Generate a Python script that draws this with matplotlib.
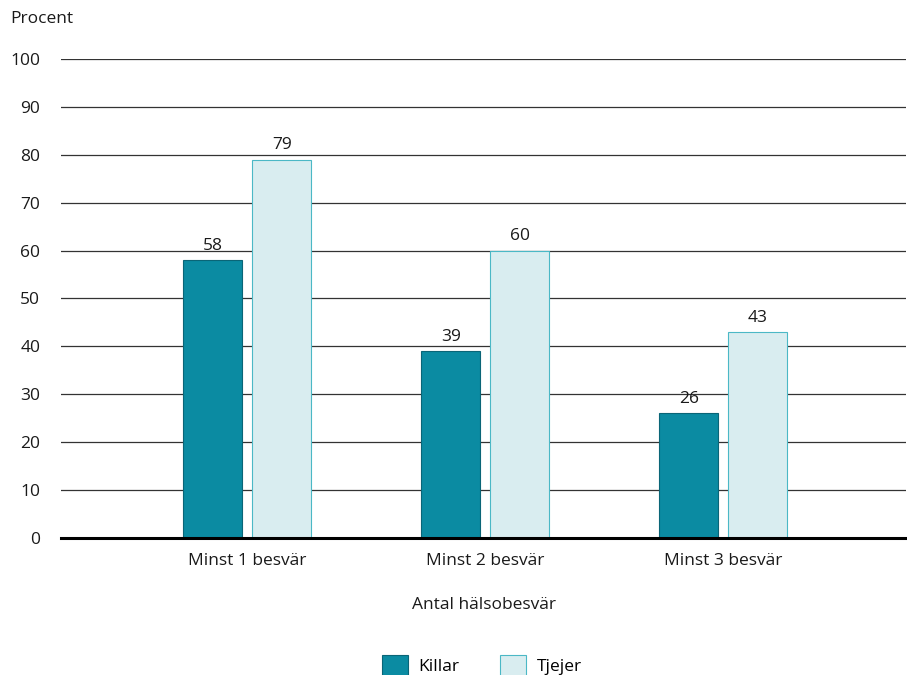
import matplotlib.pyplot as plt
import numpy as np

plt.rcParams["font.family"] = ["Open Sans", "DejaVu Sans"]

categories = ["Minst 1 besvär", "Minst 2 besvär", "Minst 3 besvär"]
killar = [58, 39, 26]
tjejer = [79, 60, 43]
yticks = [0, 10, 20, 30, 40, 50, 60, 70, 80, 90, 100]

fs = 12.5
fig = plt.figure(figsize=(9.07, 6.75), dpi=100)
ax = fig.add_axes([0.0673, 0.203, 0.932, 0.7096])

x = np.arange(len(categories))
w = 0.248
off = 0.145

b1 = ax.bar(x - off, killar, w, color="#0b8ba2", edgecolor="#0a6577",
            linewidth=0.8, label="Killar", zorder=3)
b2 = ax.bar(x + off, tjejer, w, color="#d9edf0", edgecolor="#4bb8c6",
            linewidth=0.8, label="Tjejer", zorder=3)

# value labels above each bar
for bars, vals in ((b1, killar), (b2, tjejer)):
    for rect, v in zip(bars, vals):
        ax.text(rect.get_x() + rect.get_width() / 2, v + 1.3, str(v),
                ha="center", va="bottom", fontsize=fs, color="#1a1a1a")

ax.set_xlim(-0.7815, 2.769)
ax.set_ylim(0, 100)
ax.set_yticks(yticks)
ax.set_xticks(x)
ax.set_xticklabels(categories)
ax.tick_params(axis="both", length=0, labelsize=fs, colors="#1a1a1a")
ax.tick_params(axis="y", pad=15)
ax.tick_params(axis="x", pad=11)
for yv in yticks[1:]:
    ax.axhline(yv, color="#333333", linewidth=0.9, zorder=1)
ax.axhline(0, color="black", linewidth=2.2, zorder=4, clip_on=False)

for s in ax.spines.values():
    s.set_visible(False)

ax.set_xlabel("Antal hälsobesvär", fontsize=fs, labelpad=20, color="#1a1a1a")
fig.text(0.011, 0.972, "Procent", fontsize=fs, va="center", ha="left", color="#1a1a1a")

fig.legend(handles=[b1, b2], loc="center", bbox_to_anchor=(0.531, 0.014),
           ncol=2, frameon=False, fontsize=fs, handlelength=1.5,
           handleheight=1.5, columnspacing=2.35, handletextpad=0.6)

fig.savefig("out.png", dpi=100)
